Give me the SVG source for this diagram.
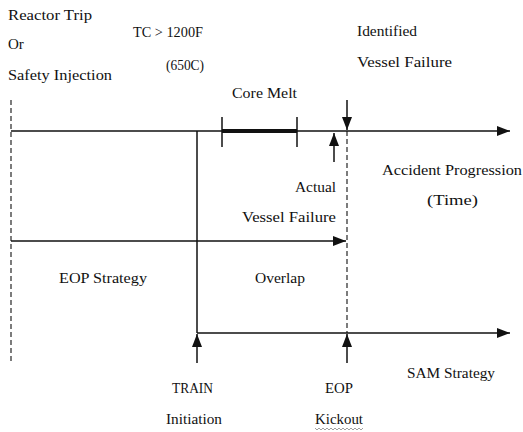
<svg xmlns="http://www.w3.org/2000/svg" width="523" height="432" viewBox="0 0 523 432">
<style>
text{font-family:"Liberation Serif","Times New Roman",serif;font-size:15px;fill:#111}
.ln{stroke:#111;stroke-width:1.5;fill:none}
.dash{stroke:#111;stroke-width:1.1;stroke-dasharray:5 3;fill:none}
</style>
<defs>
<marker id="ah" markerUnits="userSpaceOnUse" markerWidth="14" markerHeight="12" refX="13" refY="6" orient="auto">
<path d="M0,1 L13,6 L0,11 Z" fill="#111"/>
</marker>
</defs>
<rect width="523" height="432" fill="#fff"/>
<g id="connectors">
<line class="dash" x1="11" y1="100" x2="11" y2="364"/>
<line class="ln" x1="11" y1="131" x2="510" y2="131" marker-end="url(#ah)"/>
<line x1="222" y1="131" x2="297" y2="131" stroke="#111" stroke-width="4"/>
<line class="ln" x1="222" y1="117" x2="222" y2="147"/>
<line class="ln" x1="297" y1="117" x2="297" y2="147"/>
<line class="ln" x1="197" y1="131" x2="197" y2="333"/>
<line class="dash" x1="347" y1="131" x2="347" y2="333"/>
<line class="ln" x1="347" y1="100" x2="347" y2="130" marker-end="url(#ah)"/>
<line class="ln" x1="334" y1="162" x2="334" y2="133" marker-end="url(#ah)"/>
<line class="ln" x1="11" y1="241" x2="346" y2="241" marker-end="url(#ah)"/>
<line class="ln" x1="197" y1="333" x2="510" y2="333" marker-end="url(#ah)"/>
<line class="ln" x1="197" y1="363" x2="197" y2="334" marker-end="url(#ah)"/>
<line class="ln" x1="347" y1="363" x2="347" y2="334" marker-end="url(#ah)"/>
</g>
<g id="trip"><text x="8" y="20" textLength="84" lengthAdjust="spacingAndGlyphs">Reactor Trip</text><text x="8" y="49">Or</text><text x="8" y="80" textLength="104" lengthAdjust="spacingAndGlyphs">Safety Injection</text></g>
<g id="tc"><text x="133" y="37" textLength="70" lengthAdjust="spacingAndGlyphs">TC &gt; 1200F</text><text x="166" y="70" textLength="38" lengthAdjust="spacingAndGlyphs">(650C)</text></g>
<g id="identified"><text x="357" y="36" textLength="60" lengthAdjust="spacingAndGlyphs">Identified</text><text x="357" y="67" textLength="95" lengthAdjust="spacingAndGlyphs">Vessel Failure</text></g>
<g id="coremelt"><text x="232" y="98" textLength="65" lengthAdjust="spacingAndGlyphs">Core Melt</text></g>
<g id="actual"><text x="295" y="192" textLength="41" lengthAdjust="spacingAndGlyphs">Actual</text><text x="242" y="222" textLength="94" lengthAdjust="spacingAndGlyphs">Vessel Failure</text></g>
<g id="progression"><text x="382" y="175" textLength="140" lengthAdjust="spacingAndGlyphs">Accident Progression</text><text x="427" y="205" textLength="51" lengthAdjust="spacingAndGlyphs">(Time)</text></g>
<g id="eop-strategy"><text x="59" y="283" textLength="88" lengthAdjust="spacingAndGlyphs">EOP Strategy</text></g>
<g id="overlap"><text x="255" y="283" textLength="50" lengthAdjust="spacingAndGlyphs">Overlap</text></g>
<g id="sam"><text x="407" y="378" textLength="88" lengthAdjust="spacingAndGlyphs">SAM Strategy</text></g>
<g id="train"><text x="172" y="393" textLength="41" lengthAdjust="spacingAndGlyphs">TRAIN</text><text x="166" y="424" textLength="56" lengthAdjust="spacingAndGlyphs">Initiation</text></g>
<g id="kickout"><text x="315" y="393" dx="10" textLength="28" lengthAdjust="spacingAndGlyphs">EOP</text><text x="315" y="424" textLength="48" lengthAdjust="spacingAndGlyphs">Kickout</text>
<polyline points="315,428 317,430 319,428 321,430 323,428 325,430 327,428 329,430 331,428 333,430 335,428 337,430 339,428 341,430 343,428 345,430 347,428 349,430 351,428 353,430 355,428 357,430 359,428 361,430 363,428" fill="none" stroke="#777" stroke-width="0.7"/></g>
</svg>
